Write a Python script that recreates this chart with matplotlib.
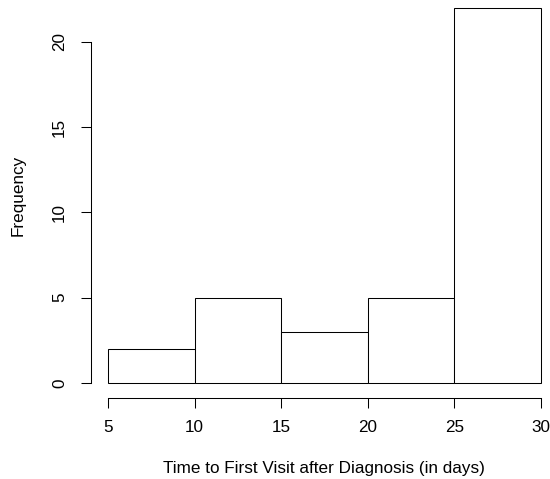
import matplotlib
matplotlib.use("Agg")
import matplotlib.pyplot as plt

# histogram of days to first visit
breaks = [5, 10, 15, 20, 25, 30]
counts = [2, 5, 3, 5, 22]
x_ticks = [5, 10, 15, 20, 25, 30]
y_ticks = [0, 5, 10, 15, 20]

plt.rcParams['font.family'] = ['Liberation Sans', 'DejaVu Sans']
FS = 12.3
W, H = 550, 479
fig = plt.figure(figsize=(W / 100, H / 100), dpi=100)

# R-style plot region (it runs a bit past the figure edge)
left, right, bottom, top = 90.7, 558.4, 398.0, -7.4
ax = fig.add_axes([left / W, (H - bottom) / H, (right - left) / W, (bottom - top) / H])

widths = [b - a for a, b in zip(breaks[:-1], breaks[1:])]
ax.bar(breaks[:-1], counts, width=widths, align='edge',
       facecolor='white', edgecolor='black', linewidth=0.75)

ax.set_xlim(4, 31)
ax.set_ylim(-0.88, 22.88)
for s in ['top', 'right']:
    ax.spines[s].set_visible(False)
ax.spines['left'].set_bounds(0, 20)
ax.spines['bottom'].set_bounds(5, 30)
ax.spines['left'].set_linewidth(0.75)
ax.spines['bottom'].set_linewidth(0.75)

ax.set_xticks(x_ticks)
ax.set_yticks(y_ticks)
ax.set_yticklabels([str(v) for v in y_ticks], rotation=90, va='center')
ax.tick_params(direction='out', length=7, width=0.75, labelsize=FS)
ax.tick_params(axis='x', pad=9)
ax.tick_params(axis='y', pad=10)

fig.text(324 / W, 1 - 469 / H,
         'Time to First Visit after Diagnosis (in days)',
         ha='center', va='center', fontsize=FS)
fig.text(18 / W, 1 - 195 / H, 'Frequency', rotation=90,
         ha='center', va='center', fontsize=FS)

fig.savefig('out.png', dpi=100)
